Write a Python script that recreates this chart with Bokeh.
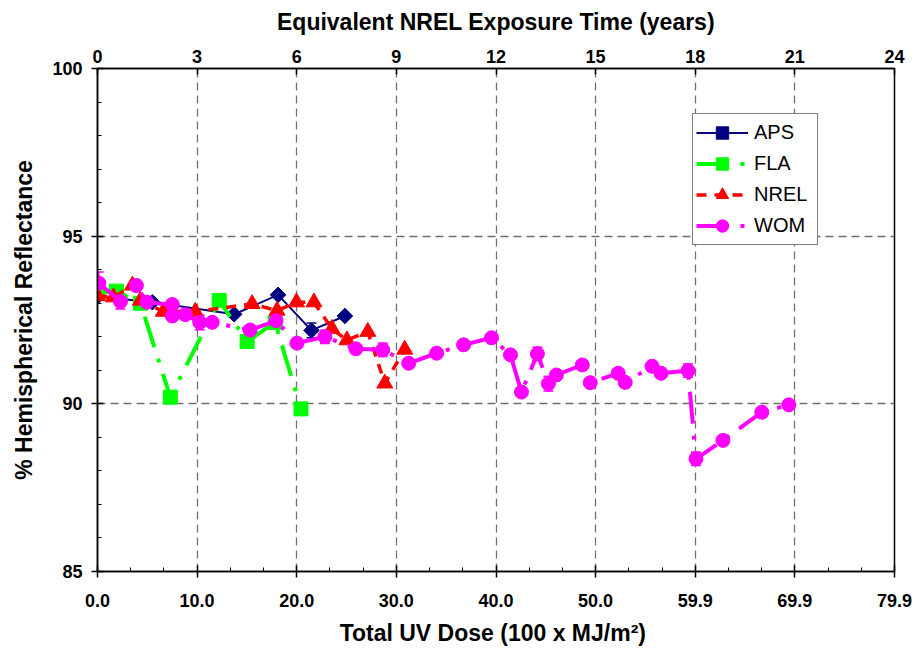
from bokeh.plotting import figure
from bokeh.models import (Range1d, LinearAxis, FixedTicker, CustomJSTickFormatter,
                          Legend, LegendItem, ColumnDataSource, Whisker, TeeHead)
from bokeh.embed import file_html
from bokeh.resources import INLINE
import numpy as np

# ---------------- data ----------------
DOSE_MAX = 79.9
YEARS_MAX = 24
bottom_labels = ["0.0", "10.0", "20.0", "30.0", "40.0", "50.0", "59.9", "69.9", "79.9"]
top_ticks = [0, 3, 6, 9, 12, 15, 18, 21, 24]
y_ticks = [85, 90, 95, 100]

aps_x = [0.0, 5.5, 13.7, 18.1, 21.45, 24.8]
aps_y = [93.2, 93.03, 92.67, 93.25, 92.19, 92.62]
aps_err = [0.0, 0.0, 0.0, 0.0, 0.22, 0.0]

fla_x = [0.0, 1.9, 4.3, 7.3, 12.2, 15.0, 17.8, 20.4]
fla_y = [93.3, 93.36, 93.0, 90.2, 93.08, 91.86, 92.43, 89.85]

nrel_x = [0.0, 1.6, 3.5, 4.3, 6.6, 9.8, 15.5, 18.0, 19.95, 21.7, 23.5, 25.0, 27.1, 28.8, 30.8]
nrel_y = [93.22, 93.18, 93.53, 93.08, 92.75, 92.75, 92.98, 92.78, 93.03, 93.03, 92.24,
          91.9, 92.15, 90.61, 91.62]

wom_x = [0.13, 2.3, 3.9, 4.95, 7.5, 7.5, 8.8, 10.25, 11.5, 15.3, 17.9, 20.0, 22.8, 25.9,
         28.6, 31.2, 34.0, 36.7, 39.5, 41.4, 42.5, 44.1, 45.2, 46.0, 48.6, 49.4, 52.2,
         52.9, 55.6, 56.5, 59.2, 60.0, 62.7, 66.6, 69.3]
wom_y = [93.6, 93.05, 93.53, 93.03, 92.96, 92.62, 92.66, 92.43, 92.43, 92.2, 92.48, 91.81,
         92.0, 91.64, 91.61, 91.21, 91.51, 91.76, 91.97, 91.46, 90.35, 91.49, 90.6, 90.86,
         91.16, 90.63, 90.91, 90.64, 91.12, 90.91, 90.99, 88.36, 88.91, 89.75, 89.97]
wom_err = [0.33, 0.22, 0, 0, 0, 0, 0, 0.22, 0, 0, 0, 0, 0.2, 0, 0.2, 0, 0, 0, 0, 0, 0,
           0.2, 0.22, 0, 0, 0, 0, 0, 0, 0, 0.2, 0.2, 0, 0, 0]

# ---------------- figure ----------------
FONT = "Liberation Sans"
p = figure(width=918, height=651, output_backend="svg", toolbar_location=None,
           x_range=Range1d(0, DOSE_MAX), y_range=Range1d(85, 100),
           x_axis_location="below", y_axis_location="left",
           min_border_left=97, min_border_right=24, min_border_top=68, min_border_bottom=80)
p.background_fill_color = "white"
p.border_fill_color = "white"
p.outline_line_color = "black"
p.outline_line_width = 1.5

bottom_ticks = [k * DOSE_MAX / 8 for k in range(9)]
minor_bottom = [k * DOSE_MAX / 24 for k in range(25)]
xax = p.xaxis[0]
xax.ticker = FixedTicker(ticks=bottom_ticks, minor_ticks=minor_bottom)
xax.formatter = CustomJSTickFormatter(args=dict(labels=bottom_labels),
                                      code="return labels[index];")
yax = p.yaxis[0]
yax.ticker = FixedTicker(ticks=y_ticks, minor_ticks=list(range(85, 101)))

p.extra_x_ranges = {"years": Range1d(0, YEARS_MAX)}
top = LinearAxis(x_range_name="years", ticker=FixedTicker(ticks=top_ticks, minor_ticks=[]))
p.add_layout(top, "above")

for ax in (xax, yax, top):
    ax.axis_line_color = "black"
    ax.axis_line_width = 1.5
    ax.major_tick_line_color = "black"
    ax.major_tick_line_width = 1.5
    ax.minor_tick_line_color = "black"
    ax.minor_tick_line_width = 1
    ax.major_label_text_font = FONT
    ax.major_label_text_font_style = "bold"
    ax.major_label_text_font_size = "18px"
    ax.major_label_text_color = "black"
    ax.axis_label_text_font = FONT
    ax.axis_label_text_font_style = "bold"
    ax.axis_label_text_font_size = "23px"
    ax.axis_label_text_color = "black"

xax.major_tick_in = 6
xax.major_tick_out = 6
xax.minor_tick_in = 4
xax.minor_tick_out = 0
xax.major_label_standoff = 16
xax.axis_label = "Total UV Dose  (100 x MJ/m²)"
xax.axis_label_standoff = 10

yax.major_tick_in = 6
yax.major_tick_out = 6
yax.minor_tick_in = 4
yax.minor_tick_out = 0
yax.major_label_standoff = 9
yax.axis_label = "% Hemispherical Reflectance"
yax.axis_label_standoff = 12

top.major_tick_in = 6
top.major_tick_out = 0
top.minor_tick_in = 0
top.minor_tick_out = 0
top.major_label_standoff = 6
top.axis_label = "Equivalent NREL Exposure Time (years)"
top.axis_label_standoff = 12

p.xgrid.ticker = FixedTicker(ticks=bottom_ticks[1:-1])
p.ygrid.ticker = FixedTicker(ticks=[90, 95])
for g in (p.xgrid, p.ygrid):
    g.grid_line_color = "#707070"
    g.grid_line_dash = "8 5"
    g.grid_line_width = 1.3

# ---------------- series ----------------
NAVY, GREEN, RED, MAG = "#000080", "#00FF00", "#FF0000", "#FF00FF"


def add_err(xs, ys, es, color):
    idx = [i for i, e in enumerate(es) if e > 0]
    src = ColumnDataSource(dict(x=[xs[i] for i in idx],
                                upper=[ys[i] + es[i] for i in idx],
                                lower=[ys[i] - es[i] for i in idx]))
    w = Whisker(source=src, base="x", upper="upper", lower="lower",
                line_color=color, line_width=1.5,
                upper_head=TeeHead(size=10, line_color=color, line_width=1.5),
                lower_head=TeeHead(size=10, line_color=color, line_width=1.5))
    p.add_layout(w)


add_err(aps_x, aps_y, aps_err, NAVY)
aps_l = p.line(aps_x, aps_y, line_color=NAVY, line_width=2)
aps_m = p.scatter(aps_x, aps_y, marker="square", angle=np.pi / 4, size=11,
                  fill_color=NAVY, line_color=NAVY)

fla_l = p.line(fla_x, fla_y, line_color=GREEN, line_width=4, line_dash="32 12 4 12")
fla_m = p.scatter(fla_x, fla_y, marker="square", size=14, fill_color=GREEN, line_color=GREEN)

nrel_l = p.line(nrel_x, nrel_y, line_color=RED, line_width=3.5, line_dash="10 8")
nrel_m = p.scatter(nrel_x, nrel_y, marker="triangle", size=16, fill_color=RED, line_color=RED)

add_err(wom_x, wom_y, wom_err, MAG)
wom_l = p.line(wom_x, wom_y, line_color=MAG, line_width=4, line_dash="32 12 4 12")
wom_m = p.scatter(wom_x, wom_y, marker="circle", size=14, fill_color=MAG, line_color=MAG)

legend = Legend(items=[LegendItem(label="APS", renderers=[aps_l, aps_m]),
                       LegendItem(label="FLA", renderers=[fla_l, fla_m]),
                       LegendItem(label="NREL", renderers=[nrel_l, nrel_m]),
                       LegendItem(label="WOM", renderers=[wom_l, wom_m])],
                location=(595, 326))
legend.label_text_font = FONT
legend.label_text_font_size = "20px"
legend.label_text_color = "black"
legend.glyph_width = 52
legend.glyph_height = 31
legend.spacing = 0
legend.padding = 3
legend.margin = 0
legend.label_standoff = 6
legend.label_width = 60
legend.border_line_color = "black"
legend.border_line_width = 1
legend.background_fill_color = "white"
legend.background_fill_alpha = 1
p.add_layout(legend)

open("out.html", "w").write(file_html(p, INLINE))
